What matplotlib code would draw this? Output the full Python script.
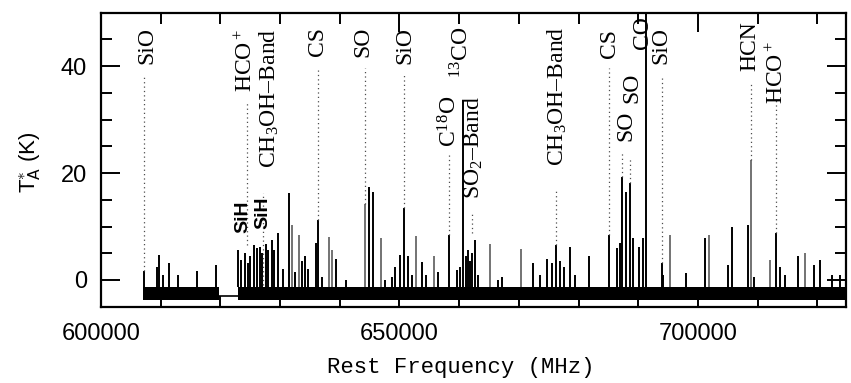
import matplotlib
matplotlib.use('Agg')
import matplotlib.pyplot as plt
from matplotlib.ticker import MultipleLocator

# Emission lines (rest frequency in MHz, peak T_A* in K)
dark_freq = [607253, 609330, 609765, 610435, 611390, 612948, 616130, 619212,
             622995, 623450, 624120, 624570, 624960, 625680, 626080, 626630,
             627020, 627590, 628020, 628590, 629030, 629700, 630490, 631490,
             632500, 633670, 634170, 634670, 635960, 636300, 637020, 639360,
             641040, 644890, 645610, 647570, 648740, 649250, 650080, 650800,
             651470, 652090, 653720, 654440, 656450, 658340, 659630, 660130,
             660690, 661190, 661530, 661860, 662190, 662700, 663200, 666550,
             667110, 672410, 673530, 674660, 675490, 676210, 676880, 677610,
             678560, 679400, 681790, 685140, 686370, 686930, 687210, 687880,
             688610, 689160, 690170, 690740, 691290, 693920, 694190, 697990,
             701170, 704970, 705640, 708320, 709430, 713010, 713730, 714570,
             716700, 719480, 720430, 722390, 723780]
dark_temp = [1.6, 2.5, 4.7, 0.9, 3.2, 0.9, 1.7, 2.8,
             5.6, 3.7, 5.0, 3.1, 4.4, 6.5, 5.9, 6.2,
             5.0, 6.8, 5.6, 7.4, 5.6, 8.7, 2.0, 16.2,
             1.5, 3.5, 4.4, 2.0, 6.9, 11.2, 0.5, 4.0,
             0.0, 17.4, 16.5, 0.0, 0.5, 2.5, 4.7, 13.4,
             4.4, 1.0, 3.4, 1.0, 1.5, 8.4, 1.9, 2.5,
             33.5, 4.5, 5.6, 3.5, 5.0, 7.5, 1.0, 0.0,
             0.5, 3.1, 1.0, 4.0, 3.1, 6.5, 3.5, 2.5,
             6.2, 1.0, 4.4, 8.4, 5.9, 7.0, 19.3, 16.5,
             18.1, 7.8, 6.2, 7.8, 60.0, 3.1, 1.0, 1.3,
             7.8, 2.8, 10.0, 10.3, 0.5, 8.8, 2.5, 0.9,
             4.4, 2.8, 3.7, 0.9, 0.9]

faint_freq = [631940, 633170, 638190, 638640, 644220, 646850, 652760, 655780,
              665160, 670300, 695310, 701890, 708870, 712060, 717920]
faint_temp = [10.3, 8.4, 8.1, 5.6, 14.3, 7.8, 8.2, 4.5,
              6.7, 5.8, 8.4, 8.4, 22.4, 3.7, 5.0]

# Noise floor of the two observed windows, and the unobserved gap
band_start = [607000, 623000]
band_end = [619700, 724800]
band_low = -3.7
band_high = -1.3
gap_freq = [619700, 623000]
gap_level = -3.0

# Line identifications
label_text = ['SiO', 'HCO$^+$', 'CH$_3$OH\u2013Band', 'CS', 'SO', 'SiO',
              'C$^{18}$O', '$^{13}$CO', 'SO$_2$\u2013Band', 'CH$_3$OH\u2013Band',
              'CS', 'SO', 'SO', 'CO', 'SiO', 'HCN', 'HCO$^+$']
label_freq = [607700, 624300, 628150, 636350, 643890, 650920,
              658460, 660470, 662300, 676380,
              685260, 688000, 688950, 690780, 693800, 708710, 713230]
label_top = [47.4, 46.9, 47.1, 47.4, 47.4, 47.4,
             34.4, 47.4, 34.4, 47.4,
             47.0, 31.6, 38.7, 49.3, 47.4, 48.4, 44.7]

# Dotted pointers from each label down to its line
pointer_freq = [607253, 624456, 627136, 636300, 644220, 650800, 658340,
                662190, 676210, 685140, 687210, 688610, 693920, 708870, 713010]
pointer_top = [38.1, 33.5, 16.2, 39.6, 39.6, 38.7, 23.3,
               12.6, 16.7, 39.6, 24.2, 22.9, 38.1, 36.8, 34.0]
pointer_bottom = [1.6, 6.5, -1.0, 11.2, 14.3, 13.4, 8.4,
                  8.7, 6.5, 8.4, 19.3, 18.1, 3.1, 22.4, 8.8]

sih_freq = [623700, 627150]
sih_level = [14.9, 15.6]


def main():
    plt.rcParams['mathtext.fontset'] = 'custom'
    plt.rcParams['mathtext.rm'] = 'Liberation Serif'
    plt.rcParams['mathtext.it'] = 'Liberation Serif:italic'
    plt.rcParams['mathtext.bf'] = 'Liberation Serif:bold'

    fig = plt.figure(figsize=(8.51, 3.83), dpi=100)
    ax = fig.add_axes([0.1187, 0.1992, 0.8754, 0.7676])

    # Spectrum
    for s, e in zip(band_start, band_end):
        ax.fill_between([s, e], band_low, band_high, color='black', lw=0)
    ax.plot(gap_freq, [gap_level, gap_level], color='black', lw=1.2)
    ax.vlines(faint_freq, band_high, faint_temp, color='0.45', lw=1.4)
    ax.vlines(dark_freq, band_high, dark_temp, color='black', lw=1.4)

    # Pointers and labels
    ax.vlines(pointer_freq, pointer_bottom, pointer_top, color='0.3',
              lw=0.9, linestyles=(0, (1, 2.5)))
    for txt, f, top in zip(label_text, label_freq, label_top):
        ax.text(f, top, txt, rotation=90, ha='center', va='top',
                family='Liberation Serif', fontsize=17)
    for f, lvl in zip(sih_freq, sih_level):
        ax.text(f, lvl, 'SiH', rotation=90, ha='center', va='top',
                family='Liberation Sans', fontsize=14, fontweight='bold')

    # Axes
    ax.set_xlim(600000, 724800)
    ax.set_ylim(-5, 50)
    ax.xaxis.set_major_locator(MultipleLocator(50000))
    ax.xaxis.set_minor_locator(MultipleLocator(10000))
    ax.yaxis.set_major_locator(MultipleLocator(20))
    ax.yaxis.set_minor_locator(MultipleLocator(5))
    ax.tick_params(which='both', direction='in', top=True, right=True,
                   width=1.4, labelsize=17)
    ax.tick_params(which='major', length=14)
    ax.tick_params(which='minor', length=8)
    ax.tick_params(axis='x', pad=12)
    ax.tick_params(axis='y', pad=10)
    for lab in ax.get_xticklabels() + ax.get_yticklabels():
        lab.set_family('Liberation Sans')
    for sp in ax.spines.values():
        sp.set_linewidth(1.6)

    ax.set_xlabel('Rest Frequency (MHz)', family='Liberation Mono',
                  fontsize=16)
    ax.xaxis.set_label_coords(0.483, -0.17)
    fig.text(30 / 851, 1 - 162 / 383, r'T$_\mathsf{A}^{\ast}$ (K)',
             rotation=90, ha='center', va='center',
             family='Liberation Sans', fontsize=16)

    fig.savefig('out.png', dpi=100)


if __name__ == '__main__':
    main()
